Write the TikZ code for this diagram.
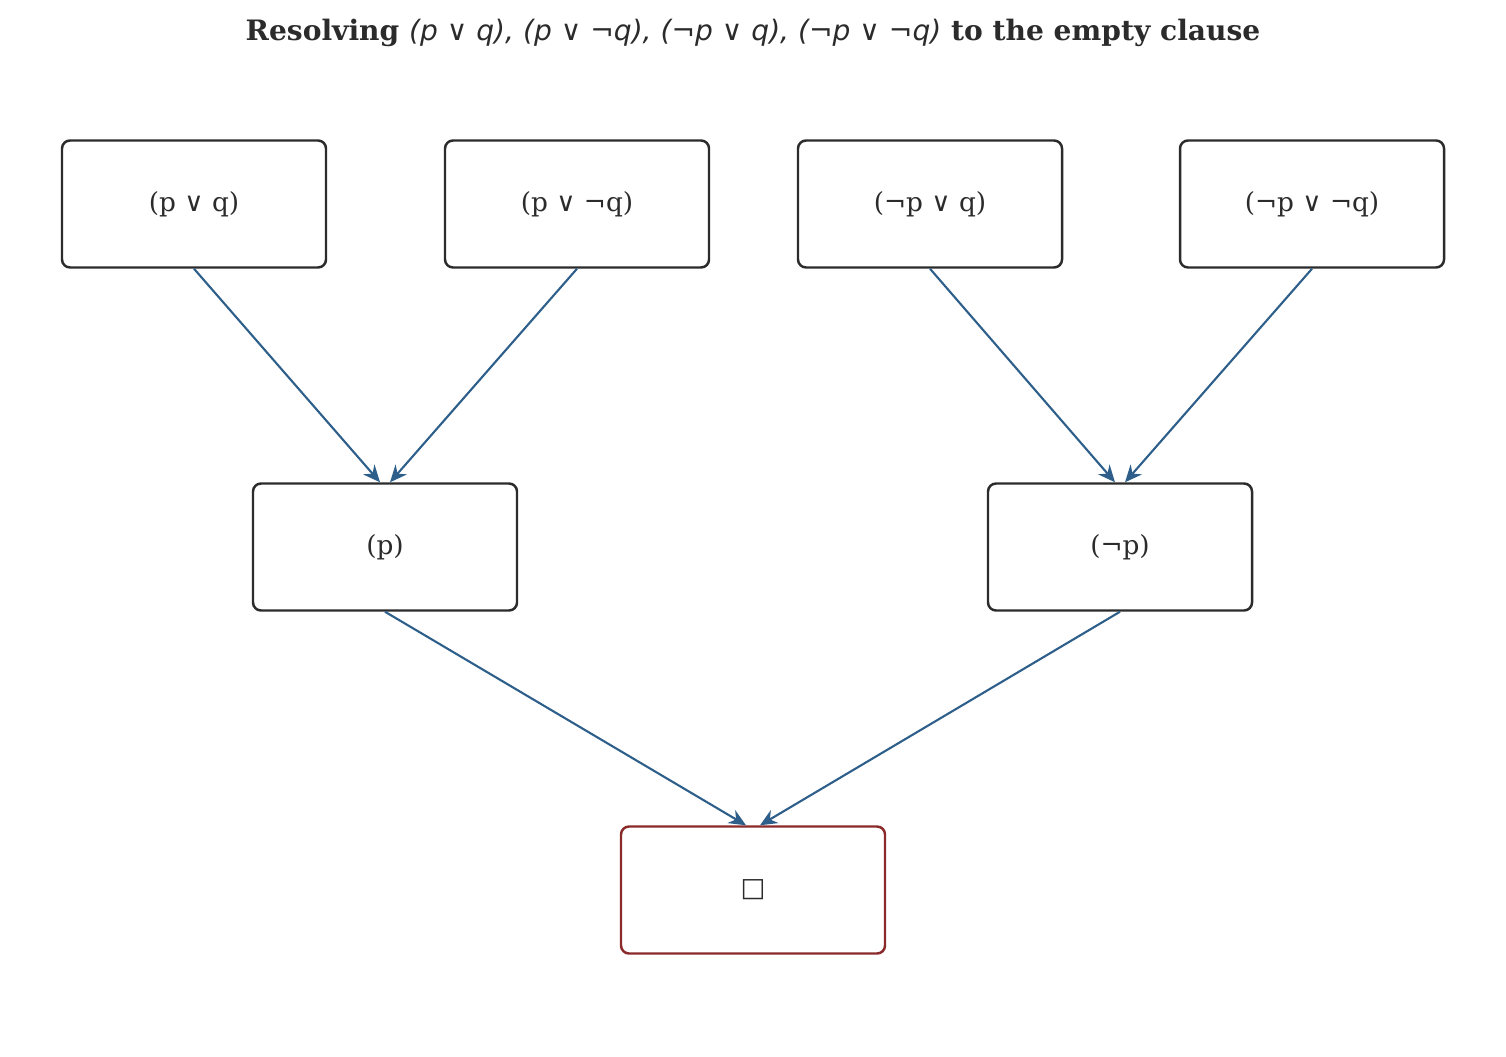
\documentclass[tikz,border=0pt]{standalone}
\usepackage{fontspec}
\setmainfont{DejaVu Serif}
\newfontfamily\titlemath{DejaVu Sans}[ItalicFont={DejaVu Sans Oblique}]
\usetikzlibrary{arrows.meta}
\definecolor{boxline}{HTML}{2B2B2B}
\definecolor{edgeblue}{HTML}{2E5F8A}
\definecolor{emptyred}{HTML}{8B2A2A}
\tikzset{
  clause/.style = {draw=boxline, rounded corners=0.16cm, line width=1.4pt,
    minimum width=5.28cm, minimum height=2.54cm, text=boxline, font=\fontsize{15}{18}\selectfont},
  emptyclause/.style = {clause, draw=emptyred},
  resolve/.style = {draw=edgeblue, line width=1.2pt, -{Stealth[length=0.34cm,width=0.3cm]}}
}
\begin{document}
\begin{tikzpicture}
  \useasboundingbox (0,0) rectangle (30.12,21.12);
  \node[text=boxline, font=\fontsize{16}{19}\selectfont\bfseries] (title) at (15.06,20.46)
    {Resolving {\mdseries\titlemath\itshape (p ∨ q), (p ∨ ¬q), (¬p ∨ q), (¬p ∨ ¬q)} to the empty clause};
  % leaves
  \node[clause] (pq) at (3.88,17.04) {(p ∨ q)};
  \node[clause] (pnq) at (11.54,17.04) {(p ∨ ¬q)};
  \node[clause] (npq) at (18.6,17.04) {(¬p ∨ q)};
  \node[clause] (npnq) at (26.24,17.04) {(¬p ∨ ¬q)};
  % resolvents
  \node[clause] (p) at (7.7,10.18) {(p)};
  \node[clause] (np) at (22.4,10.18) {(¬p)};
  \node[emptyclause] (box) at (15.06,3.32) {□};
  \draw[resolve] (pq.south) -- ([xshift=-0.1cm]p.north);
  \draw[resolve] (pnq.south) -- ([xshift=0.1cm]p.north);
  \draw[resolve] (npq.south) -- ([xshift=-0.1cm]np.north);
  \draw[resolve] (npnq.south) -- ([xshift=0.1cm]np.north);
  \draw[resolve] (p.south) -- ([xshift=-0.14cm]box.north);
  \draw[resolve] (np.south) -- ([xshift=0.14cm]box.north);
\end{tikzpicture}
\end{document}
